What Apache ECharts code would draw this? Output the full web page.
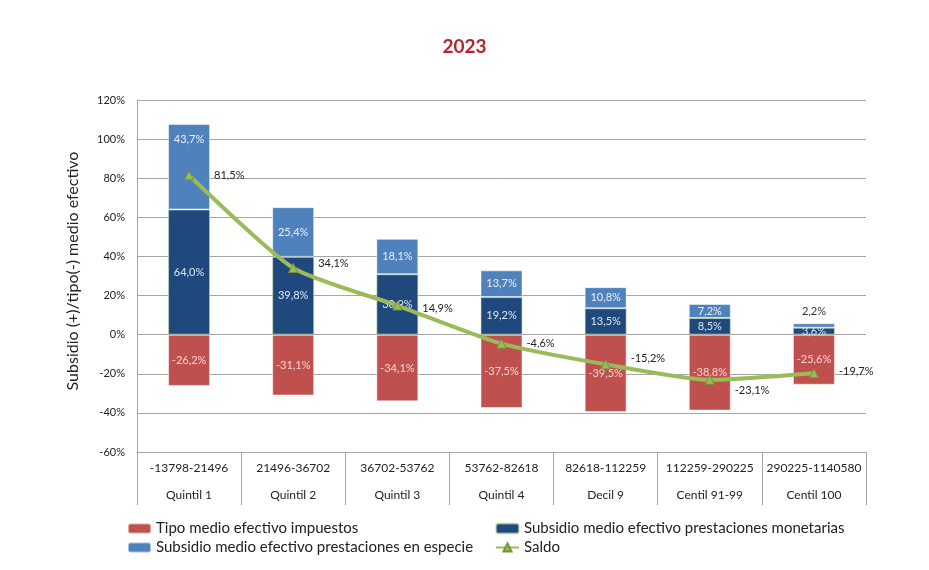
<!DOCTYPE html>
<html>
<head>
    <meta charset="utf-8">
    <title>2023</title>
    <script src="https://cdn.jsdelivr.net/npm/echarts@6/dist/echarts.min.js" type="text/javascript" charset="utf-8"></script>
</head>
<body style="margin:0;background:#fff;">
<div id="div01" style="width: 929px;height: 570px;"></div>
</body>
<script type="text/javascript">

    // datos
    var tramos = ['-13798-21496', '21496-36702', '36702-53762', '53762-82618', '82618-112259', '112259-290225', '290225-1140580'];
    var grupos = ['Quintil 1', 'Quintil 2', 'Quintil 3', 'Quintil 4', 'Decil 9', 'Centil 91-99', 'Centil 100'];
    var impuestos = [-26.2, -31.1, -34.1, -37.5, -39.5, -38.8, -25.6];
    var monetarias = [64.0, 39.8, 30.9, 19.2, 13.5, 8.5, 3.6];
    var especie = [43.7, 25.4, 18.1, 13.7, 10.8, 7.2, 2.2];
    var saldo = [81.5, 34.1, 14.9, -4.6, -15.2, -23.1, -19.7];

    var fuente = 'Lato';

    function pct(v) {
        return v.toFixed(1).replace('.', ',') + '%';
    }

    // etiquetas de especie: la primera arriba, la ultima fuera de la barra
    var especieData = especie.map(function (v, i) {
        if (i === 0) return {value: v, label: {position: 'insideTop', distance: 10}};
        if (i === especie.length - 1) return {value: v, label: {position: 'top', color: '#333', distance: 6}};
        return v;
    });

    // pequeños desplazamientos de las etiquetas del saldo
    var saldoOffsets = [[0, 0], [0, -5], [0, 3], [0, 0], [0, -6], [0, 11], [0, -2]];
    var saldoData = saldo.map(function (v, i) {
        return {value: v, label: {offset: saldoOffsets[i]}};
    });

    var myChart = echarts.init(document.getElementById("div01"));

    myChart.setOption({
        animation: false,
        textStyle: {fontFamily: fuente},
        title: {
            text: '2023',
            left: 'center',
            top: 32,
            textStyle: {color: '#B8232B', fontSize: 19, fontWeight: 'bold', fontFamily: fuente}
        },
        legend: [{
            orient: 'vertical',
            left: 122,
            top: 516,
            itemWidth: 23,
            itemHeight: 10,
            itemGap: 4,
            textStyle: {fontSize: 15, color: '#222', fontFamily: fuente},
            data: ['Tipo medio efectivo impuestos', 'Subsidio medio efectivo prestaciones en especie']
        }, {
            orient: 'vertical',
            left: 490,
            top: 516,
            itemWidth: 23,
            itemHeight: 10,
            itemGap: 4,
            textStyle: {fontSize: 15, color: '#222', fontFamily: fuente},
            data: ['Subsidio medio efectivo prestaciones monetarias', 'Saldo']
        }],
        grid: {left: 137, right: 63, top: 100, bottom: 118},
        xAxis: [{
            type: 'category',
            data: tramos,
            position: 'bottom',
            axisLine: {show: true, onZero: false, lineStyle: {color: '#A6A6A6'}},
            axisTick: {show: true, interval: 0, length: 53, lineStyle: {color: '#A6A6A6'}},
            axisLabel: {interval: 0, margin: 10, fontSize: 12, color: '#222'}
        }, {
            type: 'category',
            data: grupos,
            position: 'bottom',
            offset: 27,
            axisLine: {show: false, onZero: false},
            axisTick: {show: false},
            axisLabel: {interval: 0, margin: 10, fontSize: 12, color: '#222'}
        }],
        yAxis: {
            type: 'value',
            min: -60,
            max: 120,
            interval: 20,
            name: 'Subsidio (+)/tipo(-) medio efectivo',
            nameLocation: 'middle',
            nameGap: 56,
            nameTextStyle: {fontSize: 16, color: '#222', padding: [0, 0, 0, 10]},
            axisLine: {show: true, lineStyle: {color: '#A6A6A6'}},
            axisTick: {show: false},
            axisLabel: {fontSize: 11, color: '#222', margin: 12, formatter: '{value}%'},
            splitLine: {lineStyle: {color: '#A6A6A6'}}
        },
        series: [{
            name: 'Tipo medio efectivo impuestos',
            type: 'bar',
            stack: 'total',
            barWidth: 42,
            data: impuestos,
            itemStyle: {color: '#C0504D', borderColor: 'rgba(255,255,255,0.5)', borderWidth: 1},
            label: {show: true, position: 'inside', color: '#F6D6D5', fontSize: 11, formatter: function (p) { return pct(p.value); }}
        }, {
            name: 'Subsidio medio efectivo prestaciones monetarias',
            type: 'bar',
            stack: 'total',
            data: monetarias,
            itemStyle: {color: '#1F497D', borderColor: 'rgba(200,225,170,0.6)', borderWidth: 1},
            label: {show: true, position: 'inside', color: '#DCE6F2', fontSize: 11, formatter: function (p) { return pct(p.value); }}
        }, {
            name: 'Subsidio medio efectivo prestaciones en especie',
            type: 'bar',
            stack: 'total',
            data: especieData,
            itemStyle: {color: '#4F81BD', borderColor: 'rgba(255,255,255,0.5)', borderWidth: 1},
            label: {show: true, position: 'inside', color: '#EAF1FA', fontSize: 11, formatter: function (p) { return pct(p.value); }}
        }, {
            name: 'Saldo',
            type: 'line',
            data: saldoData,
            smooth: 0.2,
            z: 5,
            symbol: 'triangle',
            symbolSize: 9,
            lineStyle: {color: '#9BBB59', width: 4},
            itemStyle: {color: '#9BBB59', borderColor: '#77933C', borderWidth: 1},
            label: {show: true, position: 'right', distance: 20, color: '#222', fontSize: 11, formatter: function (p) { return pct(p.value); }}
        }]
    });
</script>
</html>
